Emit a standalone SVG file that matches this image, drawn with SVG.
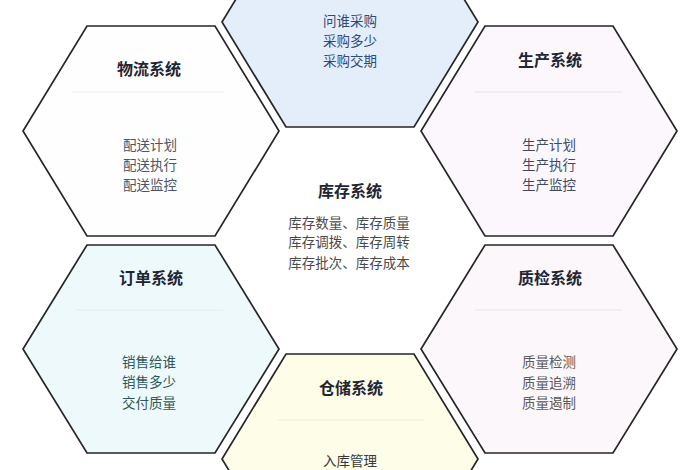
<svg xmlns="http://www.w3.org/2000/svg" width="700" height="470" viewBox="0 0 700 470">
  <defs>
    <style>
      .hex { stroke: #262626; stroke-width: 1.7; stroke-linejoin: miter; }
      .div { stroke-width: 1.2; }
      .title { font-family: "Noto Sans CJK SC", "Noto Sans", sans-serif; font-size: 16px; font-weight: 700; fill: #1e2633; text-anchor: middle; }
      .item { font-family: "Noto Sans CJK SC", "Noto Sans", sans-serif; font-size: 13.5px; text-anchor: middle; }
    </style>
  </defs>
  <rect width="700" height="470" fill="#ffffff"/>

  <g id="node-caigou">
    <polygon class="hex" fill="#e4eefa" points="286,-83 414,-83 478,22 414,127 286,127 222,22"/>
    <text class="item" fill="#2f4a78" x="350" y="26">问谁采购</text>
    <text class="item" fill="#2f4a78" x="350" y="46">采购多少</text>
    <text class="item" fill="#2f4a78" x="350" y="66">采购交期</text>
  </g>

  <g id="node-wuliu">
    <polygon class="hex" fill="#fefefe" points="87,26 215,26 279,131 215,236 87,236 23,131"/>
    <text class="title" x="149" y="75">物流系统</text>
    <line class="div" stroke="#eef1f4" x1="72" y1="92" x2="224" y2="92"/>
    <text class="item" fill="#4a5566" x="150" y="150">配送计划</text>
    <text class="item" fill="#4a5566" x="150" y="170">配送执行</text>
    <text class="item" fill="#4a5566" x="150" y="190">配送监控</text>
  </g>

  <g id="node-shengchan">
    <polygon class="hex" fill="#fbf7fd" points="485,26 613,26 677,131 613,236 485,236 421,131"/>
    <text class="title" x="550" y="66">生产系统</text>
    <line class="div" stroke="#e6e4f2" x1="475" y1="92" x2="622" y2="92"/>
    <text class="item" fill="#3e4a60" x="549" y="150">生产计划</text>
    <text class="item" fill="#3e4a60" x="549" y="170">生产执行</text>
    <text class="item" fill="#3e4a60" x="549" y="190">生产监控</text>
  </g>

  <g id="node-kucun">
    <text class="title" x="350" y="197">库存系统</text>
    <text class="item" fill="#4a4a4a" x="349" y="228">库存数量、库存质量</text>
    <text class="item" fill="#4a4a4a" x="349" y="247">库存调拨、库存周转</text>
    <text class="item" fill="#4a4a4a" x="349" y="268">库存批次、库存成本</text>
  </g>

  <g id="node-dingdan">
    <polygon class="hex" fill="#edf9fb" points="87,245 215,245 279,349 215,453 87,453 23,349"/>
    <text class="title" x="151" y="284">订单系统</text>
    <line class="div" stroke="#e4eeee" x1="75" y1="310" x2="223" y2="310"/>
    <text class="item" fill="#2f5758" x="149" y="367">销售给谁</text>
    <text class="item" fill="#2f5758" x="149" y="387">销售多少</text>
    <text class="item" fill="#2f5758" x="149" y="408">交付质量</text>
  </g>

  <g id="node-zhijian">
    <polygon class="hex" fill="#fcf7fa" points="485,245 613,245 677,349 613,453 485,453 421,349"/>
    <text class="title" x="550" y="284">质检系统</text>
    <line class="div" stroke="#f0e4ea" x1="475" y1="310" x2="622" y2="310"/>
    <text class="item" fill="#5a5a5a" x="549" y="367">质量检测</text>
    <text class="item" fill="#5a5a5a" x="549" y="388">质量追溯</text>
    <text class="item" fill="#5a5a5a" x="549" y="408">质量遏制</text>
  </g>

  <g id="node-cangchu">
    <polygon class="hex" fill="#fdfde8" points="286,354 414,354 478,459 414,564 286,564 222,459"/>
    <text class="title" x="351" y="394">仓储系统</text>
    <line class="div" stroke="#eeeedc" x1="277" y1="420" x2="424" y2="420"/>
    <text class="item" fill="#3a3a3a" x="350" y="466">入库管理</text>
  </g>

  <g id="connectors"></g>
</svg>
